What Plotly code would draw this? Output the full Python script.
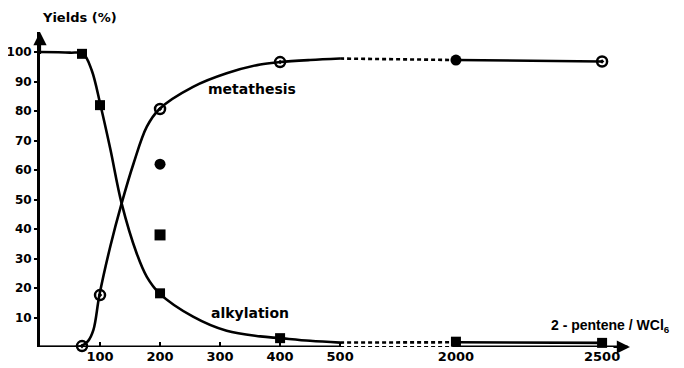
import plotly.graph_objects as go

# ---------------- data ----------------
# measured points
alk_x = [70, 100, 200, 400, 2000, 2500]
alk_y = [99.4, 82, 18.2, 3, 1.8, 1.4]
meta_open_x = [70, 100, 200, 400, 2500]
meta_open_y = [0.3, 17.6, 80.7, 96.6, 96.8]
meta_filled_x = [2000, 200]
meta_filled_y = [97.3, 62]
alk_extra_x = [200]
alk_extra_y = [38]

# fitted curves drawn in the figure
meta_curve_x = [0, 50, 68, 80, 89, 99, 117, 136, 156, 178, 199, 255, 311, 367, 400, 450, 500]
meta_curve_y = [0, 0, 0.3, 2, 5.8, 17.6, 34, 48.7, 62.3, 74.7, 80.7, 88.2, 92.8, 95.8, 96.6, 97.3, 97.8]
alk_curve_x = [0, 50, 72, 86, 101, 117, 136, 161, 178, 199, 255, 311, 367, 400, 450, 500]
alk_curve_y = [100, 99.8, 99.4, 93.9, 81.8, 67.3, 48.7, 31.8, 23.8, 18.2, 10.3, 5.5, 3.6, 3.0, 2.1, 1.5]

# broken-axis segments: dashed bridge and last solid part
meta_break_x = [500, 2000]
meta_break_y = [97.8, 97.3]
meta_tail_x = [2000, 2500]
meta_tail_y = [97.3, 96.8]
alk_break_x = [500, 2000]
alk_break_y = [1.5, 1.6]
alk_tail_x = [2000, 2500]
alk_tail_y = [1.6, 1.4]

x_ticks = [100, 200, 300, 400, 500, 2000, 2500]
x_tick_labels = ["100", "200", "300", "400", "500", "2000", "2500"]
y_ticks = [10, 20, 30, 40, 50, 60, 70, 80, 90, 100]
y_tick_labels = [str(v) for v in y_ticks]

# ---------------- broken x scale ----------------
BREAK_LO = 500
BREAK_HI = 2000
HI_POS = 693.0      # where 2000 sits on the drawing scale
HI_SCALE = 0.487    # compression of the 2000-2500 part
X_END = 983.0
Y_END = 106.8


def xmap(v):
    return v if v <= BREAK_LO else HI_POS + (v - BREAK_HI) * HI_SCALE


def xs(lst):
    return [xmap(v) for v in lst]


BLACK = "#000000"
FONT = dict(family="DejaVu Sans", size=13, color=BLACK, weight="bold")
LW = 2.6

fig = go.Figure()

# curves
for cx, cy in [(meta_curve_x, meta_curve_y), (alk_curve_x, alk_curve_y)]:
    fig.add_trace(go.Scatter(x=xs(cx), y=cy, mode="lines",
                             line=dict(color=BLACK, width=LW, shape="spline", smoothing=1.0),
                             cliponaxis=False, hoverinfo="skip"))
# dashed bridges over the axis break
for bx, by in [(meta_break_x, meta_break_y), (alk_break_x, alk_break_y)]:
    fig.add_trace(go.Scatter(x=xs(bx), y=by, mode="lines",
                             line=dict(color=BLACK, width=LW, dash="4px,3px"),
                             cliponaxis=False, hoverinfo="skip"))
for tx, ty in [(meta_tail_x, meta_tail_y), (alk_tail_x, alk_tail_y)]:
    fig.add_trace(go.Scatter(x=xs(tx), y=ty, mode="lines",
                             line=dict(color=BLACK, width=LW),
                             cliponaxis=False, hoverinfo="skip"))

# markers
fig.add_trace(go.Scatter(x=xs(alk_x), y=alk_y, mode="markers",
                         marker=dict(symbol="square", size=10, color=BLACK),
                         cliponaxis=False))
fig.add_trace(go.Scatter(x=xs(alk_extra_x), y=alk_extra_y, mode="markers",
                         marker=dict(symbol="square", size=11, color=BLACK),
                         cliponaxis=False))
fig.add_trace(go.Scatter(x=xs(meta_open_x), y=meta_open_y, mode="markers",
                         marker=dict(symbol="circle-open-dot", size=10, color=BLACK,
                                     line=dict(width=2.5, color=BLACK)),
                         cliponaxis=False))
fig.add_trace(go.Scatter(x=xs(meta_filled_x), y=meta_filled_y, mode="markers",
                         marker=dict(symbol="circle", size=11, color=BLACK),
                         cliponaxis=False))

# x-axis line: solid, dashed over the break, solid again
shapes = [
    dict(type="line", xref="x", yref="y", x0=0, x1=xmap(BREAK_LO), y0=0, y1=0,
         line=dict(color=BLACK, width=3)),
    dict(type="line", xref="x", yref="y", x0=xmap(BREAK_LO), x1=xmap(BREAK_HI) - 6, y0=0, y1=0,
         line=dict(color=BLACK, width=2, dash="4px,3px")),
    dict(type="line", xref="x", yref="y", x0=xmap(BREAK_HI) - 6, x1=X_END - 4, y0=0, y1=0,
         line=dict(color=BLACK, width=3)),
]

annotations = [
    # arrowheads
    dict(x=X_END, y=0, ax=X_END - 30, ay=0, xref="x", yref="y", axref="x", ayref="y",
         text="", showarrow=True, arrowhead=2, arrowsize=1.2, arrowwidth=2.2, arrowcolor=BLACK),
    dict(x=0, y=Y_END, ax=0, ay=Y_END - 8, xref="x", yref="y", axref="x", ayref="y",
         text="", showarrow=True, arrowhead=2, arrowsize=1.2, arrowwidth=2.2, arrowcolor=BLACK),
    # texts
    dict(text="Yields (%)", xref="paper", yref="paper", x=0.0, y=1.0, xanchor="left",
         yanchor="middle", yshift=15, showarrow=False, font=dict(FONT, size=13)),
    dict(text="2 - pentene / WCl<sub>6</sub>", xref="paper", yref="y", x=0.862, y=3.5,
         xanchor="left", yanchor="bottom", showarrow=False,
         font=dict(FONT, family="Liberation Sans", size=14)),
    dict(text="metathesis", xref="x", yref="y", x=353, y=87.5, showarrow=False,
         font=dict(FONT, size=14)),
    dict(text="alkylation", xref="x", yref="y", x=350, y=11.5, showarrow=False,
         font=dict(FONT, size=14)),
]

# the page body adds an 8px offset, so the figure is 8px smaller on each side
fig.update_layout(
    width=676, height=360,
    margin=dict(l=32, r=54, t=24, b=21),
    paper_bgcolor="white", plot_bgcolor="white",
    showlegend=False,
    shapes=shapes,
    annotations=annotations,
    xaxis=dict(range=[0, X_END], showgrid=False, zeroline=False, showline=False,
               automargin=False,
               tickmode="array", tickvals=xs(x_ticks), ticktext=x_tick_labels,
               ticks="inside", ticklen=5, tickwidth=2, tickcolor=BLACK,
               tickfont=FONT),
    yaxis=dict(range=[0, Y_END], showgrid=False, zeroline=False, showline=True,
               automargin=False,
               linecolor=BLACK, linewidth=3,
               tickmode="array", tickvals=y_ticks, ticktext=y_tick_labels,
               ticks="outside", ticklen=3, tickwidth=2, tickcolor=BLACK,
               tickfont=dict(FONT, size=12)),
)

fig.write_html("out.html")
